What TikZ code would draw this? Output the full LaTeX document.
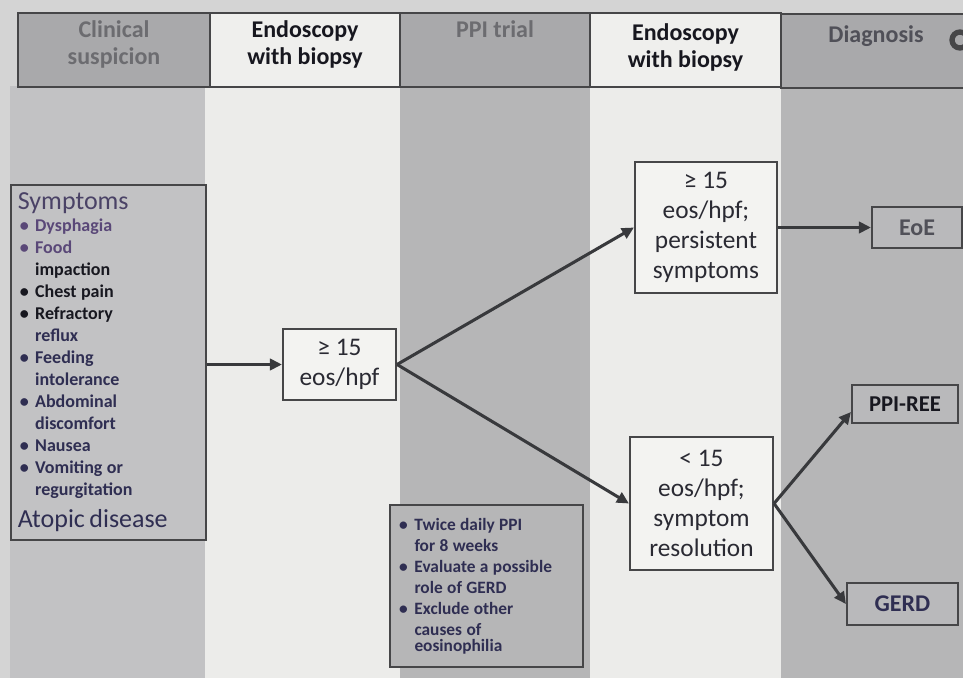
\documentclass[tikz,border=0pt]{standalone}
\usepackage{fontspec}
\setmainfont{Carlito}
\usetikzlibrary{arrows.meta,calc}
\definecolor{pagebg}{HTML}{D4D4D4}
\definecolor{colgray}{HTML}{C2C2C4}
\definecolor{colgrayb}{HTML}{B6B6B7}
\definecolor{colwhite}{HTML}{ECECEA}
\definecolor{hdgray}{HTML}{A9A9AB}
\definecolor{hdwhite}{HTML}{EFEFED}
\definecolor{edge}{HTML}{464648}
\definecolor{hdtext}{HTML}{6C6C70}
\definecolor{dgtext}{HTML}{505058}
\definecolor{boxtext}{HTML}{2A2A33}
\definecolor{symtitle}{HTML}{4A4266}
\definecolor{sympurple}{HTML}{5A4878}
\definecolor{symnavy}{HTML}{2F2E52}
\definecolor{symblack}{HTML}{17171F}
\definecolor{boxwhite}{HTML}{F3F3F1}
\definecolor{boxgray}{HTML}{B9B9BB}
\definecolor{arrowc}{HTML}{38393C}
\newcommand{\itm}[1]{\makebox[13pt][l]{\hspace{1.5pt}\textbullet}#1}
\newcommand{\cnt}[1]{\hspace*{13pt}#1}
\begin{document}
\begin{tikzpicture}[x=0.75pt,y=-0.75pt,
  hdbox/.style={draw=edge,line width=1.5pt,inner sep=0pt},
  hdlabel/.style={anchor=north,align=center,font=\fontsize{18}{20}\selectfont\bfseries,inner sep=0pt},
  fbox/.style={draw=edge,line width=1.6pt,inner sep=2pt,align=center,text=boxtext,
    font=\fontsize{19}{22.5}\selectfont},
  dxbox/.style={draw=edge,line width=1.6pt,fill=boxgray,inner sep=0pt,text=dgtext,
    font=\fontsize{17}{19}\selectfont\bfseries},
  arr/.style={draw=arrowc,line width=2.3pt,-{Triangle[length=9pt,width=8.5pt]}}
]
\useasboundingbox (0,0) rectangle (963,678);
\clip (0,0) rectangle (963,678);
% background and column stripes
\fill[pagebg] (0,0) rectangle (963,678);
\fill[colgray] (10,86) rectangle (205,678);
\fill[colwhite] (205,86) rectangle (400,678);
\fill[colgrayb] (400,86) rectangle (590,678);
\fill[colwhite] (590,86) rectangle (781,678);
\fill[colgrayb] (781,86) rectangle (963,678);

% header row
\node[hdbox,fill=hdgray,minimum width=144pt,minimum height=55pt] (h1) at (114,50) {};
\node[hdbox,fill=hdwhite,minimum width=142.5pt,minimum height=55pt] (h2) at (305,50) {};
\node[hdbox,fill=hdgray,minimum width=142.5pt,minimum height=55pt] (h3) at (495,50) {};
\node[hdbox,fill=hdwhite,minimum width=143pt,minimum height=55pt] (h4) at (685.5,50) {};
\node[hdbox,fill=hdgray,minimum width=146pt,minimum height=55pt] (h5) at (878,51) {};
\node[hdlabel,text=hdtext] (t1) at ($(h1.north)+(0,8)$) {Clinical\\suspicion};
\node[hdlabel,text=symblack] (t2) at ($(h2.north)+(0,8)$) {Endoscopy\\with biopsy};
\node[hdlabel,text=hdtext] (t3) at ($(h3.north)+(0,8)$) {PPI trial};
\node[hdlabel,text=symblack] (t4) at ($(h4.north)+(0,11)$) {Endoscopy\\with biopsy};
\node[hdlabel,text=dgtext] (t5) at ($(h5.north)+(-2,12)$) {Diagnosis};
\draw[edge,line width=4pt] (960,40) circle (8);

% symptoms box
\node[draw=edge,line width=1.6pt,fill=colgray,minimum width=146.25pt,minimum height=266.25pt,
      text width=136pt,inner sep=0pt,align=left] (sym) at (108.5,362.5) {%
  {\fontsize{19.5}{20}\selectfont\color{symtitle}Symptoms\par}%
  {\fontsize{13.5}{16.5}\selectfont\bfseries
   \color{sympurple}\itm{Dysphagia}\\
   \itm{Food}\\
   \color{symblack}\cnt{impaction}\\
   \itm{Chest pain}\\
   \itm{Refractory}\\
   \color{symnavy}\cnt{reflux}\\
   \itm{Feeding}\\
   \cnt{intolerance}\\
   \itm{Abdominal}\\
   \cnt{discomfort}\\
   \itm{Nausea}\\
   \itm{Vomiting or}\\
   \cnt{regurgitation}\par}%
  {\fontsize{19.5}{24}\selectfont\color{symnavy}Atopic disease\par}};

% endoscopy result boxes
\node[fbox,fill=boxwhite,minimum width=84.75pt,minimum height=53.25pt] (b1) at (339.5,364.5) {≥ 15\\eos/hpf};
\node[fbox,fill=boxwhite,minimum width=106.5pt,minimum height=98.25pt] (b2) at (706,227.5) {≥ 15\\eos/hpf;\\persistent\\symptoms};
\node[fbox,fill=boxwhite,minimum width=107.25pt,minimum height=99.75pt] (b3) at (701.5,503.5) {< 15\\eos/hpf;\\symptom\\resolution};

% PPI trial box
\node[draw=edge,line width=1.6pt,fill=colgrayb,minimum width=144.75pt,minimum height=121.5pt,
      text width=134pt,inner sep=0pt,align=left,text=symnavy] (ppi) at (486.5,586) {%
  \fontsize{13}{15.75}\selectfont\bfseries
  \itm{Twice daily PPI}\\
  \cnt{for 8 weeks}\\
  \itm{Evaluate a possible}\\
  \cnt{role of GERD}\\
  \itm{Exclude other}\\
  \cnt{causes of}\\
  \cnt{eosinophilia}};

% diagnosis boxes
\node[dxbox,minimum width=67.5pt,minimum height=30.75pt,font=\fontsize{18}{20}\selectfont\bfseries] (eoe) at (917,227.5) {EoE};
\node[dxbox,minimum width=79.5pt,minimum height=28.5pt,text=symblack] (ree) at (905,404) {PPI-REE};
\node[dxbox,minimum width=83.25pt,minimum height=31.5pt,text=symnavy,font=\fontsize{18}{20}\selectfont\bfseries] (gerd) at (902.5,604) {GERD};

% connectors
\draw[arr] (b1.west -| sym.east) -- (b1.west);
\draw[arr] (b1.east) -- (b2.west);
\draw[arr] (b1.east) -- (b3.west);
\draw[arr] (b2.east) -- (eoe.west);
\draw[arr] (b3.east) -- ($(ree.west)+(0,8)$);
\draw[arr] (b3.east) -- (gerd.west);
\end{tikzpicture}
\end{document}
